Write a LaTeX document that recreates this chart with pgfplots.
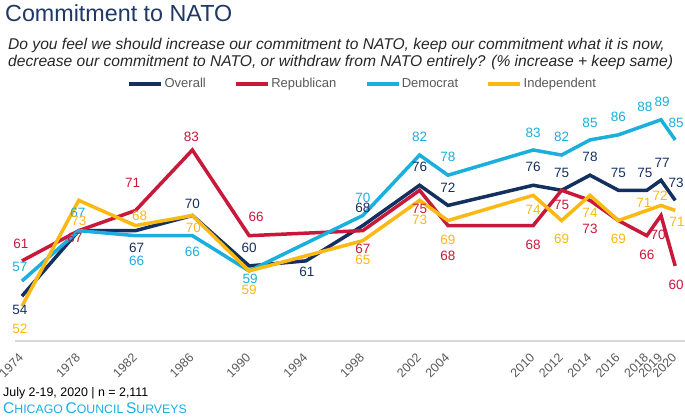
\documentclass[border=0pt]{standalone}
\usepackage{pgfplots}
\usepackage{pgfplotstable}
\pgfplotsset{compat=1.18}
\usepackage{fontspec}
\setmainfont{Liberation Sans}
\definecolor{navyc}{HTML}{14305E}
\definecolor{redc}{HTML}{C8193A}
\definecolor{cyanc}{HTML}{1AAFDC}
\definecolor{yellowc}{HTML}{FDB913}
\definecolor{titlenavy}{HTML}{1F3864}
\definecolor{subgray}{HTML}{262626}
\definecolor{leggray}{HTML}{595959}
\definecolor{axisgray}{HTML}{D9D9D9}
\definecolor{ccscyan}{HTML}{1AADE0}

\pgfplotstableread{
year v
1974 54
1978 67
1982 67
1986 70
1990 60
1994 61
1998 68
2002 76
2004 72
2010 76
2012 75
2014 78
2016 75
2018 75
2019 77
2020 73
}\overall
\pgfplotstableread{
year v
1974 61
1978 67
1982 71
1986 83
1990 66
1998 67
2002 75
2004 68
2010 68
2012 75
2014 73
2016 69
2018 66
2019 70
2020 60
}\republican
\pgfplotstableread{
year v
1974 57
1978 67
1982 66
1986 66
1990 59
1998 70
2002 82
2004 78
2010 83
2012 82
2014 85
2016 86
2018 88
2019 89
2020 85
}\democrat
\pgfplotstableread{
year v
1974 52
1978 73
1982 68
1986 70
1990 59
1998 65
2002 73
2004 69
2010 74
2012 69
2014 74
2016 69
2018 71
2019 72
2020 71
}\independent

\newcommand\labfont{\fontsize{13.5bp}{15bp}\selectfont}
% \lab{colour}{year}{value}{dx px}{dy px (down positive)}
\newcommand\lab[5]{\node[text=#1, font=\labfont, inner sep=0pt, xshift=#4bp, yshift=-#5bp] at (axis cs:#2,#3) {#3};}
\newcommand\bigc[1]{{\fontsize{15.5bp}{17bp}\selectfont #1}}
\newcommand\smc[1]{{\fontsize{12.3bp}{14bp}\selectfont #1}}

\begin{document}
\begin{tikzpicture}
\path[use as bounding box] (0,0) rectangle (685bp,-419bp);
\node[anchor=base west, inner sep=0pt, text=titlenavy, font=\fontsize{23.3bp}{26bp}\selectfont] at (5bp,-21bp) {Commitment to NATO};
\node[anchor=base west, inner sep=0pt, text=subgray, font=\itshape\fontsize{15.6bp}{17bp}\selectfont] at (8bp,-49bp) {Do you feel we should increase our commitment to NATO, keep our commitment what it is now,};
\node[anchor=base west, inner sep=0pt, text=subgray, font=\itshape\fontsize{15.6bp}{17bp}\selectfont] at (8bp,-66bp) {decrease our commitment to NATO, or withdraw from NATO entirely? (\% increase + keep same)};
\node[anchor=base west, inner sep=0pt, text=black, font=\fontsize{12.4bp}{14bp}\selectfont] at (3bp,-396bp) {July 2-19, 2020 | n = 2,111};
\node[anchor=base west, inner sep=0pt, text=ccscyan] at (3bp,-413bp) {\bigc{C}\smc{HICAGO} \bigc{C}\smc{OUNCIL} \bigc{S}\smc{URVEYS}};

\begin{axis}[
  at={(15bp,-341bp)}, anchor=south west,
  scale only axis, width=670bp, height=251.5bp,
  xmin=1973.51, xmax=2020.69, ymin=45.1, ymax=95,
  axis x line*=bottom, axis y line=none,
  x axis line style={draw=axisgray, line width=1.5bp, -},
  xtick={1974,1978,1982,1986,1990,1994,1998,2002,2004,2010,2012,2014,2016,2018,2019,2020},
  xticklabels={1974,1978,1982,1986,1990,1994,1998,2002,2004,2010,2012,2014,2016,2018,2019,2020},
  xticklabel style={yshift=-14bp, rotate=45, anchor=east, inner sep=1bp, text=leggray, font=\fontsize{12.5bp}{14bp}\selectfont},
  ytick=\empty,
  major tick length=0pt,
  tick style={draw=none},
  clip=false,
  legend style={at={(0.5187,1.022)}, anchor=center, draw=none, fill=none, legend columns=4,
    font=\fontsize{13bp}{15bp}\selectfont, text=leggray,
    nodes={inner sep=1.5bp},
    /tikz/every even column/.append style={column sep=27bp}},
  legend image code/.code={\draw[#1, line width=3.5bp] (0bp,0bp) -- (32bp,0bp);},
]
\addplot[navyc, line width=3.5bp] table[x=year,y=v] {\overall};
\addlegendentry{Overall}
\addplot[redc, line width=3.5bp] table[x=year,y=v] {\republican};
\addlegendentry{Republican}
\addplot[cyanc, line width=3.5bp] table[x=year,y=v] {\democrat};
\addlegendentry{Democrat}
\addplot[yellowc, line width=3.5bp] table[x=year,y=v] {\independent};
\addlegendentry{Independent}

% Overall labels
\lab{navyc}{1974}{54}{-2}{14}
\lab{navyc}{1982}{67}{1}{17}
\lab{navyc}{1986}{70}{0}{-12}
\lab{navyc}{1990}{60}{0}{-18}
\lab{navyc}{1994}{61}{1}{11}
\lab{navyc}{1998}{68}{0}{-18}
\lab{navyc}{2002}{76}{0}{-18}
\lab{navyc}{2004}{72}{0}{-18}
\lab{navyc}{2010}{76}{0}{-18}
\lab{navyc}{2012}{75}{0}{-17}
\lab{navyc}{2014}{78}{0}{-18}
\lab{navyc}{2016}{75}{0}{-17}
\lab{navyc}{2018}{75}{-2}{-17}
\lab{navyc}{2019}{77}{1}{-17}
\lab{navyc}{2020}{73}{1}{-18}
% Republican labels
\lab{redc}{1974}{61}{-1}{-17}
\lab{redc}{1978}{67}{-4}{7}
\lab{redc}{1982}{71}{-3}{-28}
\lab{redc}{1986}{83}{-1}{-13}
\lab{redc}{1990}{66}{7}{-19}
\lab{redc}{1998}{67}{0}{18}
\lab{redc}{2002}{75}{0}{19}
\lab{redc}{2004}{68}{0}{30}
\lab{redc}{2010}{68}{0}{19}
\lab{redc}{2012}{75}{0}{15}
\lab{redc}{2014}{73}{0}{28}
\lab{redc}{2018}{66}{0}{19}
\lab{redc}{2019}{70}{-3}{19}
\lab{redc}{2020}{60}{1}{19}
% Democrat labels
\lab{cyanc}{1974}{57}{-2}{-14}
\lab{cyanc}{1978}{67}{-1}{-18}
\lab{cyanc}{1982}{66}{1}{25}
\lab{cyanc}{1986}{66}{0}{16}
\lab{cyanc}{1990}{59}{1}{8}
\lab{cyanc}{1998}{70}{0}{-18}
\lab{cyanc}{2002}{82}{0}{-18}
\lab{cyanc}{2004}{78}{0}{-18}
\lab{cyanc}{2010}{83}{0}{-17}
\lab{cyanc}{2012}{82}{0}{-18}
\lab{cyanc}{2014}{85}{0}{-17}
\lab{cyanc}{2016}{86}{0}{-18}
\lab{cyanc}{2018}{88}{-2}{-18}
\lab{cyanc}{2019}{89}{1}{-18}
\lab{cyanc}{2020}{85}{1}{-17}
% Independent labels
\lab{yellowc}{1974}{52}{-2}{23}
\lab{yellowc}{1978}{73}{0}{20}
\lab{yellowc}{1982}{68}{4}{-10}
\lab{yellowc}{1986}{70}{1}{12}
\lab{yellowc}{1990}{59}{0}{19}
\lab{yellowc}{1998}{65}{0}{19}
\lab{yellowc}{2002}{73}{0}{19}
\lab{yellowc}{2004}{69}{0}{19}
\lab{yellowc}{2010}{74}{0}{15}
\lab{yellowc}{2012}{69}{0}{18}
\lab{yellowc}{2014}{74}{0}{18}
\lab{yellowc}{2016}{69}{0}{18}
\lab{yellowc}{2018}{71}{-3}{-8}
\lab{yellowc}{2019}{72}{-1}{-10}
\lab{yellowc}{2020}{71}{2}{11}
\end{axis}
\end{tikzpicture}
\end{document}
